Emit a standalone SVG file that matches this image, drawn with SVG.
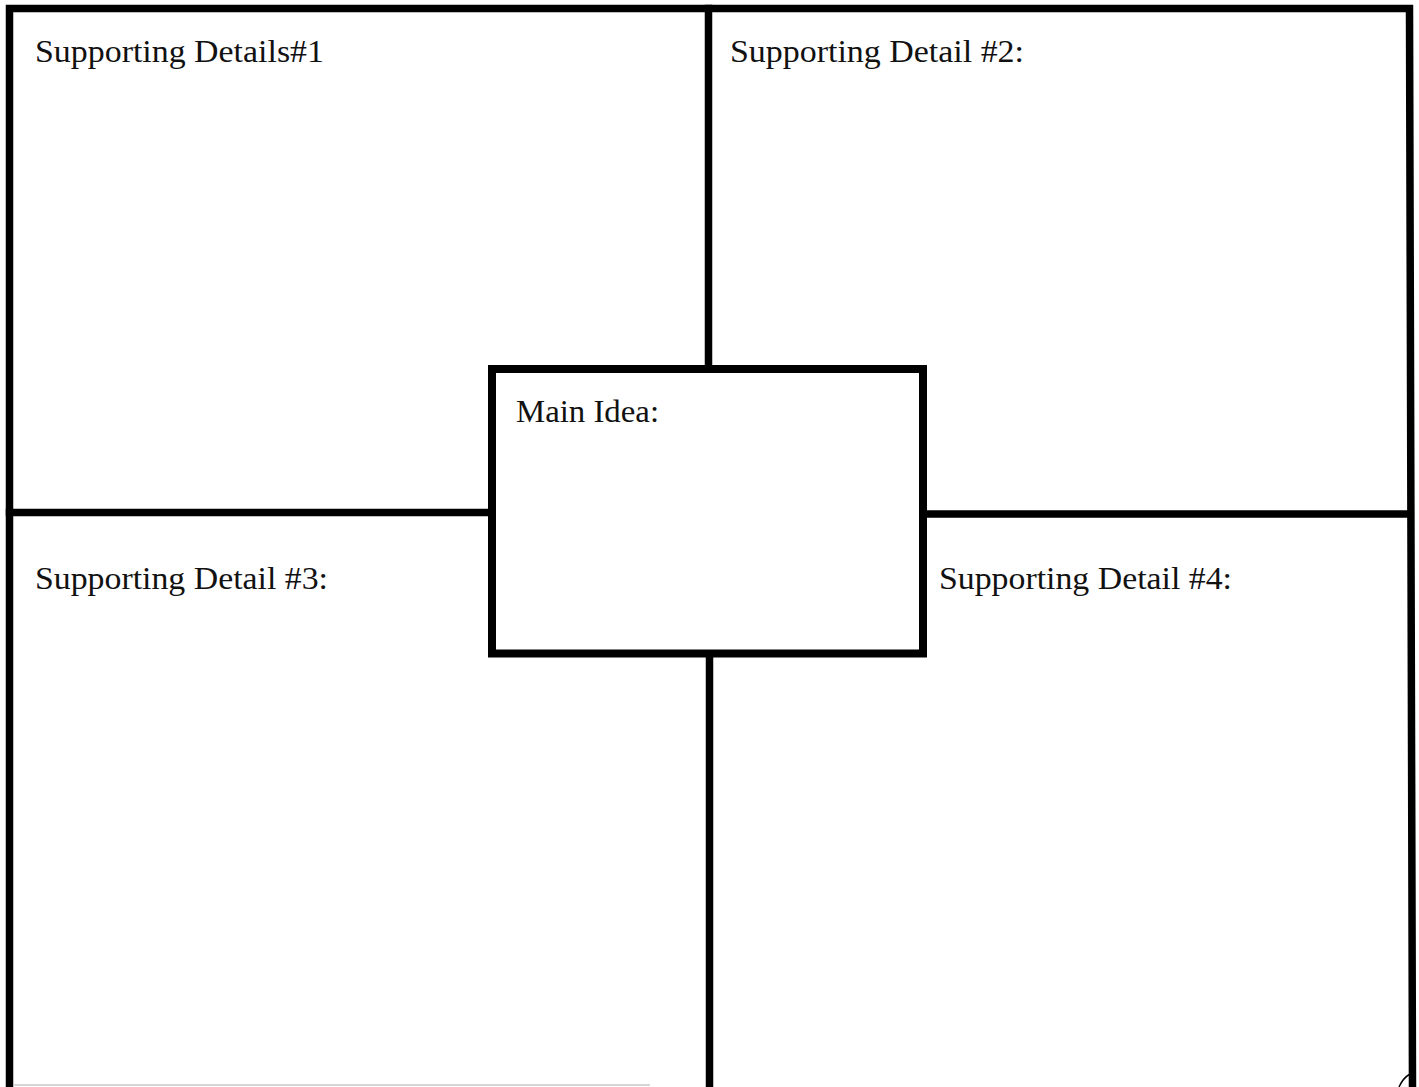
<svg xmlns="http://www.w3.org/2000/svg" width="1419" height="1087" viewBox="0 0 1419 1087">
  <style>
    .ln { stroke: #000; stroke-width: 7.5; fill: none; stroke-linecap: square; }
    .box { stroke: #000; stroke-width: 8; fill: #fff; }
    .lbl { font-family: "Liberation Serif", "DejaVu Serif", serif; font-size: 31px; fill: #111; }
  </style>
  <rect width="1419" height="1087" fill="#fff"/>
  <g id="frame">
    <path class="ln" d="M 9.5 1090 V 8.5 H 1409.5 L 1412.5 1090" stroke-linecap="butt"/>
    <line x1="13" y1="1085" x2="650" y2="1085" stroke="#c8c8c8" stroke-width="1.5"/>
    <path d="M 1399 1087 Q 1403 1078 1410 1074" stroke="#000" stroke-width="1.5" fill="none"/>
  </g>
  <g id="connectors">
    <line class="ln" x1="708.5" y1="8.5" x2="708.5" y2="369"/>
    <line class="ln" x1="709.5" y1="653" x2="709.5" y2="1090"/>
    <line class="ln" x1="9.5" y1="512.5" x2="492" y2="512.5"/>
    <line class="ln" x1="923" y1="514" x2="1410" y2="514"/>
  </g>
  <g id="detail1">
    <text class="lbl" x="35" y="62" textLength="289" lengthAdjust="spacingAndGlyphs">Supporting Details#1</text>
  </g>
  <g id="detail2">
    <text class="lbl" x="730" y="62" textLength="294" lengthAdjust="spacingAndGlyphs">Supporting Detail #2:</text>
  </g>
  <g id="detail3">
    <text class="lbl" x="35" y="589" textLength="293" lengthAdjust="spacingAndGlyphs">Supporting Detail #3:</text>
  </g>
  <g id="detail4">
    <text class="lbl" x="939" y="589" textLength="293" lengthAdjust="spacingAndGlyphs">Supporting Detail #4:</text>
  </g>
  <g id="main-idea">
    <rect class="box" x="492" y="369" width="431" height="284.5"/>
    <text class="lbl" x="516" y="422" textLength="143" lengthAdjust="spacingAndGlyphs">Main Idea:</text>
  </g>
</svg>
